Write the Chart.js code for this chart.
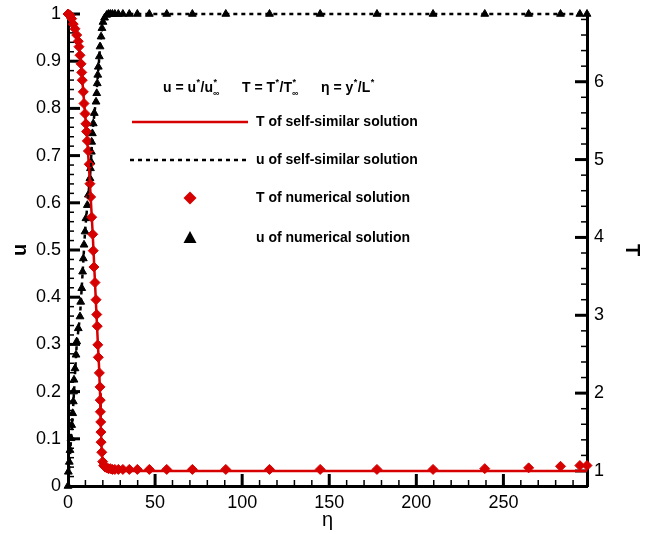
<!DOCTYPE html>
<html>
<head>
<meta charset="utf-8">
<script src="https://cdn.jsdelivr.net/npm/chart.js@4.4.0/dist/chart.umd.min.js"></script>
<style>
  html, body { margin: 0; padding: 0; background: #fff; }
</style>
</head>
<body>
<canvas id="myChart" width="652" height="534"></canvas>
<script>
var FONT = "'Liberation Sans', Arial, sans-serif";
var RED = "rgb(214,0,0)";

// self-similar solution (lines)
var etaSelfSim = [0, 3, 5, 6.9, 8.2, 9.8, 11.1, 12.6, 14.2, 15.5, 16.8, 17.8, 18.4, 18.8, 19.4, 20, 21, 22.5, 25, 298];
var tSelfSim = [6.87, 6.76, 6.60, 6.34, 6.02, 5.59, 5.24, 4.69, 4.04, 3.42, 2.80, 2.35, 2.0, 1.6, 1.24, 1.1, 1.04, 1.01, 1.0, 1.0];
var uSelfSim = [0, 0.17, 0.30, 0.36, 0.44, 0.54, 0.595, 0.652, 0.755, 0.80, 0.853, 0.90, 0.931, 0.945, 0.965, 0.98, 0.992, 0.998, 1, 1];

// numerical solution, temperature (diamonds)
var etaTNum = [0, 0.6, 1.3, 2.1, 3.0, 4.0, 5.0, 5.9, 6.3, 6.9,
  7.5, 7.9, 8.2, 8.8, 9.2, 9.8, 10.3, 10.7, 11.1, 11.7,
  12.2, 12.6, 13.0, 13.6, 14.2, 14.5, 14.9, 15.5, 16.1, 16.5,
  16.8, 17.1, 17.4, 18.0, 18.4, 18.5, 18.6, 18.8, 18.9, 19.0,
  19.4, 19.9, 20.5, 21.3, 22.2, 23.2, 24.3, 25.5, 26.9, 28.9,
  31.5, 35.2, 39.8, 46.7, 56.7, 71.4, 90.6, 115.7, 144.8, 177.4,
  209.6, 239.3, 264.5, 282.8, 293.9, 298];
var tNum = [6.87, 6.86, 6.85, 6.81, 6.74, 6.68, 6.60, 6.52, 6.45, 6.34,
  6.23, 6.12, 6.02, 5.87, 5.72, 5.59, 5.46, 5.36, 5.24, 5.11,
  4.94, 4.69, 4.52, 4.26, 4.04, 3.83, 3.62, 3.42, 3.20, 3.01,
  2.86, 2.62, 2.46, 2.26, 2.08, 1.91, 1.76, 1.63, 1.50, 1.37,
  1.24, 1.12, 1.07, 1.05, 1.04, 1.03, 1.03, 1.02, 1.02, 1.02,
  1.02, 1.02, 1.02, 1.02, 1.02, 1.02, 1.02, 1.02, 1.02, 1.02,
  1.02, 1.03, 1.04, 1.06, 1.07, 1.07];

// numerical solution, velocity (triangles)
var etaUNum = [0, 0.2, 0.75, 1.15, 1.72, 2.13, 2.70, 3.05, 3.2, 3.45,
  4.02, 4.6, 5.0, 5.9, 6.9, 7.3, 7.9, 8.4, 8.8, 9.2,
  9.8, 10.3, 11.1, 11.7, 12.6, 12.9, 13.2, 13.4, 13.6, 14.0,
  14.5, 15.1, 16.1, 16.5, 16.8, 17.1, 17.4, 18.0, 18.4, 19.0,
  19.5, 20.1, 21.0, 22.2, 23.2, 24.3, 25.5, 26.9, 28.9, 31.5,
  35.2, 39.8, 46.7, 56.7, 71.4, 90.6, 115.7, 144.8, 177.4, 209.6,
  239.3, 264.5, 282.8, 293.9, 298];
var uNum = [0, 0.030, 0.051, 0.076, 0.101, 0.129, 0.154, 0.179, 0.200, 0.225,
  0.249, 0.278, 0.306, 0.334, 0.359, 0.390, 0.419, 0.454, 0.482, 0.511,
  0.539, 0.567, 0.595, 0.617, 0.652, 0.673, 0.687, 0.708, 0.729, 0.747,
  0.768, 0.790, 0.814, 0.832, 0.853, 0.871, 0.888, 0.910, 0.931, 0.952,
  0.970, 0.983, 0.992, 0.998, 1, 1, 1, 1, 1, 1,
  1, 1, 1, 1, 1, 1, 1, 1, 1, 1,
  1, 1, 1, 1, 1];

// axis tick labels
var etaTicks = [0, 50, 100, 150, 200, 250];
var uTicks = [0, 0.1, 0.2, 0.3, 0.4, 0.5, 0.6, 0.7, 0.8, 0.9, 1];
var uTickLabels = ["0", "0.1", "0.2", "0.3", "0.4", "0.5", "0.6", "0.7", "0.8", "0.9", "1"];
var tTicks = [1, 2, 3, 4, 5, 6];

function pairs(xs, ys) {
    var out = [];
    for (var i = 0; i < xs.length; i++) out.push({x: xs[i], y: ys[i]});
    return out;
}

var chartData = {
    datasets: [
        {
            label: "T of self-similar solution",
            data: pairs(etaSelfSim, tSelfSim),
            yAxisID: "yT",
            showLine: true,
            borderColor: RED,
            borderWidth: 2.5,
            pointRadius: 0,
            clip: false
        },
        {
            label: "u of self-similar solution",
            data: pairs(etaSelfSim, uSelfSim),
            yAxisID: "y",
            showLine: true,
            borderColor: "#000",
            borderWidth: 2.5,
            borderDash: [4, 4],
            pointRadius: 0,
            clip: false
        },
        {
            label: "T of numerical solution",
            data: pairs(etaTNum, tNum),
            yAxisID: "yT",
            showLine: false,
            pointStyle: "rectRot",
            pointRadius: 5,
            backgroundColor: RED,
            borderColor: RED,
            borderWidth: 1,
            clip: false
        },
        {
            label: "u of numerical solution",
            data: pairs(etaUNum, uNum),
            yAxisID: "y",
            showLine: false,
            pointStyle: "triangle",
            pointRadius: 4.5,
            backgroundColor: "#000",
            borderColor: "#000",
            borderWidth: 1,
            clip: false
        }
    ]
};

// inward pointing major/minor tick marks (Tecplot style)
var innerTicks = {
    id: "innerTicks",
    beforeDatasetsDraw: function(chart) {
        var ctx = chart.ctx, a = chart.chartArea;
        var sx = chart.scales.x, sy = chart.scales.y, st = chart.scales.yT;
        ctx.save();
        ctx.strokeStyle = "#000";
        function seg(x1, y1, x2, y2, w) {
            ctx.lineWidth = w;
            ctx.beginPath();
            ctx.moveTo(x1, y1);
            ctx.lineTo(x2, y2);
            ctx.stroke();
        }
        for (var i = 1; i * 10 <= sx.max; i++) {
            var px = sx.getPixelForValue(i * 10);
            var major = i % 5 == 0;
            seg(px, a.bottom, px, a.bottom - (major ? 12 : 6), major ? 3 : 1.5);
        }
        for (var j = 1; j <= 50; j++) {
            var py = sy.getPixelForValue(j * 0.02);
            var maj = j % 5 == 0;
            seg(a.left, py, a.left + (maj ? 12 : 6), py, maj ? 3 : 1.5);
        }
        for (var k = 0; 1 + k * 0.2 <= st.max; k++) {
            var pt = st.getPixelForValue(1 + k * 0.2);
            var mj = k % 5 == 0;
            seg(a.right, pt, a.right - (mj ? 12 : 6), pt, mj ? 3 : 1.5);
        }
        ctx.restore();
    }
};

// legend box drawn inside the plot
var legendBox = {
    id: "legendBox",
    afterDatasetsDraw: function(chart) {
        var ctx = chart.ctx;
        ctx.save();
        ctx.fillStyle = "#000";
        ctx.textBaseline = "middle";
        ctx.textAlign = "left";

        // header with definitions
        var big = "bold 14px " + FONT, small = "bold 9px " + FONT;
        function header(x, y, parts) {
            parts.forEach(function(p) {
                if (p[1] == "n") {
                    ctx.font = big;
                    ctx.fillText(p[0], x, y);
                    x += ctx.measureText(p[0]).width;
                } else if (p[1] == "sup") {
                    ctx.font = small;
                    ctx.fillText("*", x + 0.5, y - 5);
                    x += ctx.measureText("*").width + 1;
                } else {
                    ctx.font = small;
                    ctx.fillText("*", x + 0.5, y - 5);
                    ctx.fillText("\u221e", x, y + 6);
                    x += ctx.measureText("\u221e").width + 1;
                }
            });
        }
        header(163, 88, [["u = u", "n"], ["", "sup"], ["/u", "n"], ["", "ss"]]);
        header(242, 88, [["T = T", "n"], ["", "sup"], ["/T", "n"], ["", "ss"]]);
        header(321, 88, [["\u03b7 = y", "n"], ["", "sup"], ["/L", "n"], ["", "sup"]]);

        // line samples
        ctx.lineWidth = 2.5;
        ctx.strokeStyle = RED;
        ctx.beginPath();
        ctx.moveTo(132, 122);
        ctx.lineTo(248, 122);
        ctx.stroke();
        ctx.strokeStyle = "#000";
        ctx.setLineDash([4, 4]);
        ctx.beginPath();
        ctx.moveTo(130, 160);
        ctx.lineTo(250, 160);
        ctx.stroke();
        ctx.setLineDash([]);

        // marker samples
        ctx.fillStyle = RED;
        ctx.beginPath();
        ctx.moveTo(190, 191.5);
        ctx.lineTo(196.5, 198);
        ctx.lineTo(190, 204.5);
        ctx.lineTo(183.5, 198);
        ctx.closePath();
        ctx.fill();
        ctx.fillStyle = "#000";
        ctx.beginPath();
        ctx.moveTo(190, 231);
        ctx.lineTo(196.5, 243);
        ctx.lineTo(183.5, 243);
        ctx.closePath();
        ctx.fill();

        ctx.font = big;
        var labels = chart.data.datasets.map(function(d) { return d.label; });
        var rows = [122, 160, 198, 238];
        for (var i = 0; i < labels.length; i++) ctx.fillText(labels[i], 256, rows[i]);
        ctx.restore();
    }
};

// small lineHeight keeps the end labels from padding the plot area
function tickFont() { return {family: FONT, size: 18, lineHeight: 0.75}; }

var options = {
    responsive: false,
    animation: false,
    layout: { padding: { top: 14, left: 0, right: 0, bottom: 0 } },
    plugins: { legend: { display: false }, tooltip: { enabled: false } },
    scales: {
        x: {
            type: "linear",
            position: "bottom",
            min: 0,
            max: 298,
            grid: { display: false, drawTicks: false },
            border: { display: true, color: "#000", width: 3 },
            afterBuildTicks: function(s) { s.ticks = etaTicks.map(function(v) { return {value: v}; }); },
            ticks: { padding: 6, color: "#000", font: {family: FONT, size: 18}, maxRotation: 0,
                     callback: function(v) { return String(v); } },
            title: { display: true, text: "\u03b7", color: "#000", font: {family: FONT, size: 20},
                     padding: { top: 0, bottom: 2 } },
            afterFit: function(s) { s.height = 48; }
        },
        y: {
            type: "linear",
            position: "left",
            min: 0,
            max: 1,
            grid: { display: false, drawTicks: false },
            border: { display: true, color: "#000", width: 3 },
            afterBuildTicks: function(s) { s.ticks = uTicks.map(function(v) { return {value: v}; }); },
            ticks: { padding: 7, color: "#000", font: tickFont(),
                     callback: function(v, i) { return uTickLabels[i]; } },
            title: { display: true, text: "u", color: "#000", font: {family: FONT, size: 20, weight: "bold"},
                     padding: { top: 8, bottom: 0 } },
            afterFit: function(s) { s.width = 68; }
        },
        yT: {
            type: "linear",
            position: "right",
            min: 0.807,
            max: 6.87,
            grid: { display: false, drawTicks: false },
            border: { display: true, color: "#000", width: 3 },
            afterBuildTicks: function(s) { s.ticks = tTicks.map(function(v) { return {value: v}; }); },
            ticks: { padding: 7, color: "#000", font: tickFont(),
                     callback: function(v) { return String(v); } },
            title: { display: true, text: "T", color: "#000", font: {family: FONT, size: 20, weight: "bold"},
                     padding: { top: 8, bottom: 0 } },
            afterFit: function(s) { s.width = 65; }
        }
    }
};

var ctx = document.getElementById("myChart").getContext("2d");
var myChart = new Chart(ctx, {
    type: "scatter",
    data: chartData,
    options: options,
    plugins: [innerTicks, legendBox]
});
</script>
</body>
</html>
